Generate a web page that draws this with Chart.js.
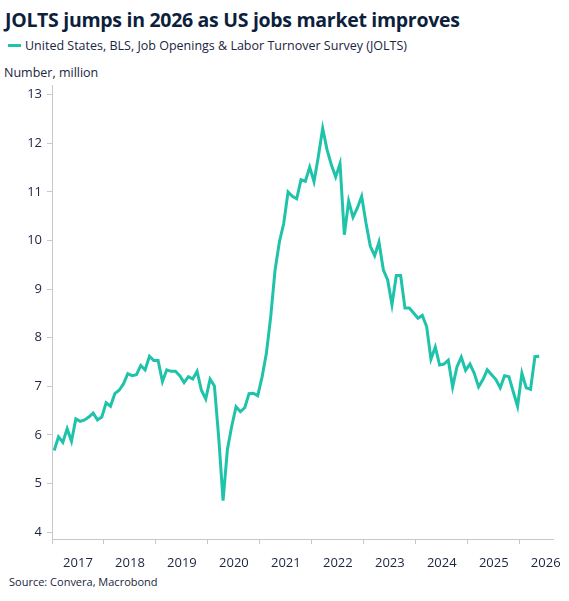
<!DOCTYPE html>
<html><head><meta charset="utf-8">
<script src="https://cdn.jsdelivr.net/npm/chart.js@4"></script>
<style>
body{margin:0;width:569px;height:601px;background:#fff;font-family:"Open Sans",sans-serif;position:relative;overflow:hidden}
#t{position:absolute;left:5px;top:6px;font-size:19.5px;font-weight:700;color:#0d1f3c;letter-spacing:-0.3px}
#l{position:absolute;left:8px;top:37px;font-size:12.5px;color:#1a2540}
#l span{display:inline-block;width:13px;height:3px;background:#1fc3aa;vertical-align:middle;margin-right:4px;margin-top:-3px}
#u{position:absolute;left:4px;top:64px;font-size:12.5px;color:#1a2540}
#s{position:absolute;left:9px;top:574px;font-size:11px;color:#1a2540}
canvas{position:absolute;left:0;top:0}
</style></head><body>
<div id="t">JOLTS jumps in 2026 as US jobs market improves</div>
<div id="l"><span></span>United States, BLS, Job Openings &amp; Labor Turnover Survey (JOLTS)</div>
<div id="u">Number, million</div>
<div id="s">Source: Convera, Macrobond</div>
<canvas id="c" width="569" height="601"></canvas>
<script>
const startYear = 2017;
const yearLabels = [2017,2018,2019,2020,2021,2022,2023,2024,2025,2026];
const openings = [
5.68,5.96,5.85,6.13,5.87,6.33,6.28,6.31,6.37,6.45,6.31,6.37,
6.66,6.59,6.85,6.92,7.05,7.26,7.22,7.24,7.43,7.34,7.62,7.53,
7.53,7.10,7.34,7.31,7.31,7.22,7.08,7.20,7.15,7.31,6.92,6.74,
7.15,7.01,5.94,4.65,5.70,6.18,6.58,6.48,6.56,6.85,6.86,6.81,
7.19,7.68,8.43,9.39,9.97,10.35,11.00,10.91,10.86,11.25,11.22,11.51,
11.21,11.73,12.31,11.87,11.56,11.31,11.58,10.12,10.81,10.48,10.67,10.91,
10.36,9.88,9.69,9.97,9.40,9.19,8.68,9.28,9.28,8.61,8.61,8.51,
8.40,8.46,8.23,7.56,7.81,7.44,7.46,7.54,6.99,7.40,7.60,7.33,
7.46,7.27,6.99,7.14,7.34,7.24,7.14,6.97,7.22,7.20,6.89,6.59,
7.27,6.97,6.94,7.61,7.62
];
const yTicks = [4,5,6,7,8,9,10,11,12,13];
const pts = openings.map((v,i)=>({x:startYear+(i+0.5)/12, y:v}));
const gray='#c8c8c8', txt='#1a2540';
new Chart(document.getElementById('c'),{
type:'line',
data:{datasets:[{data:pts,borderColor:'#1fc3aa',borderWidth:3,pointRadius:0,tension:0,xAxisID:'x',yAxisID:'y'}]},
options:{responsive:false,animation:false,
layout:{padding:{top:85,right:16,left:0,bottom:34}},
plugins:{legend:{display:false},tooltip:{enabled:false}},
scales:{
x:{type:'linear',min:2017,max:2026.64,position:'bottom',
 afterBuildTicks:s=>{s.ticks=yearLabels.map(v=>({value:v}));},
 afterFit:s=>{s.height=6;},
 ticks:{display:false},
 grid:{drawOnChartArea:false,tickLength:5,color:gray},border:{color:gray}},
x2:{type:'linear',min:2017,max:2026.64,position:'bottom',
 afterBuildTicks:s=>{s.ticks=yearLabels.map(v=>({value:v+0.5}));},
 afterFit:s=>{s.height=22;},
 ticks:{callback:v=>String(Math.floor(v)),color:txt,font:{family:'Open Sans',size:13},maxRotation:0,autoSkip:false,padding:2},
 grid:{display:false},border:{display:false}},
y:{type:'linear',min:3.86,max:13.2,
 afterBuildTicks:s=>{s.ticks=yTicks.map(v=>({value:v}));},
 afterFit:s=>{s.width=52;},
 ticks:{color:txt,font:{family:'Open Sans',size:13},padding:5},
 grid:{drawOnChartArea:false,tickLength:5,color:gray},border:{color:gray}}
}}});
</script></body></html>
